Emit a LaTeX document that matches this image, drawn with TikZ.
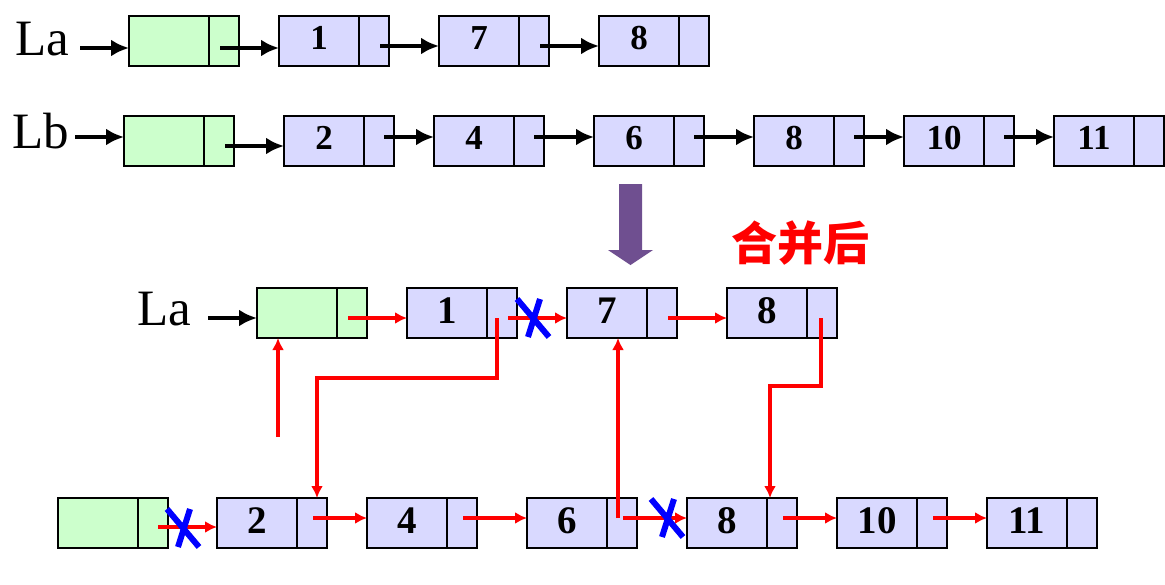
\documentclass[tikz,border=0pt]{standalone}
\usepackage{fontspec}
\setmainfont{Liberation Serif}
\newfontfamily\cjk{Noto Sans CJK SC}
\usetikzlibrary{positioning, arrows.meta}
\definecolor{headgreen}{RGB}{204,255,204}
\definecolor{nodeblue}{RGB}{217,217,255}
\definecolor{mergepurple}{RGB}{111,79,144}
\definecolor{cutblue}{RGB}{0,0,255}

\begin{document}
\begin{tikzpicture}[x=1pt, y=-1pt,
  field/.style={draw, line width=1.2pt, minimum height=50pt, inner sep=0pt, outer sep=0pt},
  headfld/.style={field, fill=headgreen, minimum width=80pt},
  headptr/.style={field, fill=headgreen, minimum width=30pt},
  datafld/.style={field, fill=nodeblue, minimum width=80pt},
  ptrfld/.style={field, fill=nodeblue, minimum width=30pt},
  toprow/.style={font=\fontsize{35}{40}\selectfont\bfseries, text depth=6pt},
  lowrow/.style={font=\fontsize{39}{44}\selectfont\bfseries, text depth=4pt},
  lbl/.style={anchor=base, inner sep=0pt, font=\fontsize{51}{55}\selectfont},
  blkarr/.style={-{Latex[length=18pt,width=17pt]}, line width=4.5pt},
  redarr/.style={-{Latex[length=12pt,width=12pt]}, red, line width=3.5pt},
  cut/.pic={\draw[cutblue, line width=6pt] (-16,-19) -- (16,19) (7,-19) -- (-5,19);}]
  \useasboundingbox (0,0) rectangle (1165,584);
  % Liste La
  \node[lbl] (la) at (42,55) {La};
  \node[headfld, anchor=north west] (ta0) at (129,16) {};
  \node[headptr, right=0pt of ta0] (ta0-p) {};
  \foreach \v/\gap [count=\i, remember=\i as \j (initially 0)] in {1/40pt,7/50pt,8/50pt} {
    \node[datafld, toprow, right=\gap of ta\j-p] (ta\i) {\v};
    \node[ptrfld, right=0pt of ta\i] (ta\i-p) {};
  }
  % Liste Lb
  \node[lbl] (lb) at (41,148) {Lb};
  \node[headfld, anchor=north west] (tb0) at (124,116) {};
  \node[headptr, right=0pt of tb0] (tb0-p) {};
  \foreach \v/\gap [count=\i, remember=\i as \j (initially 0)] in {2/50pt,4/40pt,6/50pt,8/50pt,10/40pt,11/40pt} {
    \node[datafld, toprow, right=\gap of tb\j-p] (tb\i) {\v};
    \node[ptrfld, right=0pt of tb\i] (tb\i-p) {};
  }
  % black links
  \coordinate (la-tail) at (80,48);
  \coordinate (lb-tail) at (75,137);
  \draw[blkarr] (la-tail) -- (la-tail -| ta0.west);
  \draw[blkarr] (lb-tail) -- (lb-tail -| tb0.west);
  \draw[blkarr] ([xshift=-4pt,yshift=-7pt]ta0-p.center) -- ([yshift=-7pt]ta1.west);
  \foreach \i [remember=\i as \j (initially 1)] in {2,3}
    \draw[blkarr] ([xshift=6pt,yshift=-5pt]ta\j-p.center) -- ([yshift=-5pt]ta\i.west);
  \draw[blkarr] ([xshift=6pt,yshift=-5pt]tb0-p.center) -- ([yshift=-5pt]tb1.west);
  \foreach \i [remember=\i as \j (initially 1)] in {2,...,6}
    \draw[blkarr] ([xshift=5pt,yshift=4pt]tb\j-p.center) -- ([yshift=4pt]tb\i.west);
  % merge arrow and title
  \fill[mergepurple] (619,184) -- (642,184) -- (642,250) -- (653,250) -- (630.5,265)
    -- (608,250) -- (619,250) -- cycle;
  \node[font={\cjk\bfseries\fontsize{46}{50}\selectfont}, text=red] (merged) at (800,243) {合并后};
  % merged list: La row
  \node[lbl] (lm) at (164,325) {La};
  \node[headfld, anchor=north west] (m0) at (257,288) {};
  \node[headptr, right=0pt of m0] (m0-p) {};
  \foreach \v/\gap [count=\i, remember=\i as \j (initially 0)] in {1/40pt,7/50pt,8/50pt} {
    \node[datafld, lowrow, right=\gap of m\j-p] (m\i) {\v};
    \node[ptrfld, right=0pt of m\i] (m\i-p) {};
  }
  % merged list: Lb row
  \node[headfld, anchor=north west] (b0) at (58,498) {};
  \node[headptr, right=0pt of b0] (b0-p) {};
  \foreach \v/\gap [count=\i, remember=\i as \j (initially 0)] in {2/49pt,4/40pt,6/50pt,8/50pt,10/40pt,11/40pt} {
    \node[datafld, lowrow, right=\gap of b\j-p] (b\i) {\v};
    \node[ptrfld, right=0pt of b\i] (b\i-p) {};
  }
  % red links
  \coordinate (lm-tail) at (208,318);
  \draw[blkarr] (lm-tail) -- (lm-tail -| m0.west);
  \draw[redarr] ([xshift=-4pt,yshift=-5pt]m0-p.center) -- ([yshift=-5pt]m1.west);
  \draw[redarr] ([xshift=6pt,yshift=-5pt]m1-p.center) -- ([yshift=-5pt]m2.west);
  \draw[redarr] ([xshift=6pt,yshift=-5pt]m2-p.center) -- ([yshift=-5pt]m3.west);
  \draw[redarr] ([xshift=-5pt,yshift=-5pt]m1-p.center) -- ++(0,60) -| ([xshift=5pt]b1-p.north);
  \draw[redarr] ([xshift=-1pt,yshift=-5pt]m3-p.center) -- ++(0,68) -| ([xshift=-12pt]b4-p.north);
  \coordinate (head-up) at (278,437);
  \draw[redarr] (head-up) -- (head-up |- m0.south);
  \coordinate (b3-up) at ([xshift=-4pt,yshift=5pt]b3-p.center);
  \draw[redarr] (b3-up) -- (b3-up |- m2.south);
  \draw[redarr] ([xshift=5pt,yshift=-4pt]b0-p.center) -- ([yshift=-4pt]b1.west);
  \foreach \i [remember=\i as \j (initially 1)] in {2,...,6}
    \draw[redarr] ([xshift=1pt,yshift=5pt]b\j-p.center) -- ([yshift=5pt]b\i.west);
  % cut links
  \pic at (533,318) {cut};
  \pic at (183,528) {cut};
  \pic at (667,518) {cut};
\end{tikzpicture}
\end{document}
